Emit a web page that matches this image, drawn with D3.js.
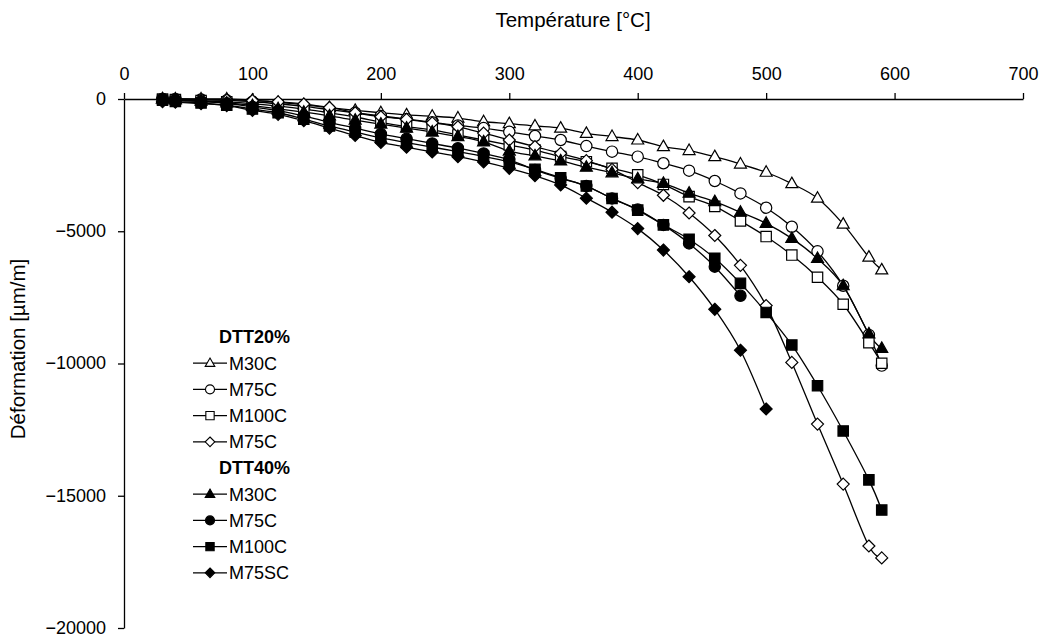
<!DOCTYPE html>
<html><head><meta charset="utf-8">
<script src="https://cdn.jsdelivr.net/npm/d3@7"></script>
<style>body{margin:0;background:#fff}svg{display:block}text{font-family:"Liberation Sans",Arial,sans-serif;fill:#000}</style>
</head><body><svg id="c" width="1042" height="636"></svg>
<script>
const temps = [30,40,60,80,100,120,140,160,180,200,220,240,260,280,300,320,340,360,380,400,420,440,460,480,500,520,540,560,580,590];
const d20_M30C  = [0,0,0,0,-50,-130,-220,-330,-430,-520,-600,-650,-720,-860,-930,-1020,-1100,-1300,-1420,-1550,-1800,-1950,-2180,-2460,-2770,-3200,-3750,-4730,-5980,-6460];
const d20_M75C  = [0,0,-20,-50,-100,-180,-280,-400,-520,-640,-760,-880,-1000,-1100,-1240,-1400,-1550,-1780,-1990,-2180,-2430,-2710,-3100,-3570,-4110,-4830,-5760,-7060,-8920,-10080];
const d20_M100C = [0,-20,-60,-110,-180,-270,-380,-520,-680,-880,-1045,-1170,-1360,-1550,-1740,-1930,-2180,-2370,-2620,-2870,-3230,-3690,-4060,-4610,-5200,-5900,-6740,-7760,-9210,-9990];
const d20_M75C2 = [0,0,-20,-30,-60,-110,-190,-320,-520,-670,-770,-900,-1050,-1290,-1550,-1800,-2055,-2330,-2660,-3160,-3640,-4310,-5160,-6290,-7810,-9960,-12290,-14560,-16900,-17350];
const d40_M30C  = [0,-30,-80,-150,-250,-370,-500,-640,-800,-950,-1100,-1250,-1420,-1620,-1970,-2150,-2340,-2580,-2790,-3020,-3190,-3560,-3880,-4280,-4700,-5270,-6030,-7060,-8880,-9430];
const d40_M75C  = [0,-40,-100,-160,-300,-440,-640,-880,-1100,-1320,-1500,-1680,-1860,-2060,-2300,-2680,-3000,-3290,-3760,-4180,-4760,-5460,-6340,-7440];
const d40_M100C = [-50,-90,-150,-230,-380,-520,-760,-1020,-1250,-1470,-1650,-1820,-1990,-2170,-2380,-2660,-2980,-3290,-3760,-4200,-4760,-5300,-6020,-6970,-8070,-9300,-10840,-12550,-14400,-15540];
const d40_M75SC = [-100,-120,-180,-250,-430,-580,-820,-1100,-1380,-1640,-1820,-2000,-2180,-2380,-2620,-2900,-3250,-3750,-4280,-4900,-5710,-6720,-7950,-9500,-11720];
const xTicks = [0,100,200,300,400,500,600,700];
const yTicks = [0,-5000,-10000,-15000,-20000];

const series = [
  {group:"DTT20%", name:"M30C", vals:d20_M30C, shape:"tri", fill:"#fff"},
  {group:"DTT20%", name:"M75C", vals:d20_M75C, shape:"circ", fill:"#fff"},
  {group:"DTT20%", name:"M100C", vals:d20_M100C, shape:"sq", fill:"#fff"},
  {group:"DTT20%", name:"M75C", vals:d20_M75C2, shape:"dia", fill:"#fff"},
  {group:"DTT40%", name:"M30C", vals:d40_M30C, shape:"tri", fill:"#000"},
  {group:"DTT40%", name:"M75C", vals:d40_M75C, shape:"circ", fill:"#000"},
  {group:"DTT40%", name:"M100C", vals:d40_M100C, shape:"sq", fill:"#000"},
  {group:"DTT40%", name:"M75SC", vals:d40_M75SC, shape:"dia", fill:"#000"}
];

const FS = "18px", TFS = "20.5px";
const svg = d3.select("#c");
const x = d3.scaleLinear().domain([0,700]).range([124,1023]);
const y = d3.scaleLinear().domain([-20000,0]).range([628,99]);

function shapePath(shape, s){
  if(shape==="circ") return d3.symbol(d3.symbolCircle, 100*s*s)();
  if(shape==="sq"){const h=5.2*s; return `M${-h},${-h}H${h}V${h}H${-h}Z`;}
  if(shape==="dia"){const h=6*s; return `M0,${-h}L${h},0L0,${h}L${-h},0Z`;}
  const w=6*s, hh=10.5*s; return `M0,${-hh*0.62}L${w},${hh*0.38}L${-w},${hh*0.38}Z`;
}

// axes
const xAxis = d3.axisTop(x).tickValues(xTicks).tickSize(6).tickSizeOuter(0).tickPadding(13).tickFormat(d3.format("d"));
const gx = svg.append("g").attr("transform",`translate(0,${y(0)})`).call(xAxis);
const yAxis = d3.axisLeft(y).tickValues(yTicks).tickSize(6).tickSizeOuter(0).tickPadding(12).tickFormat(d3.format("d"));
const gy = svg.append("g").attr("transform",`translate(${x(0)},0)`).call(yAxis);
[gx,gy].forEach(g=>{
  g.attr("font-size",null).attr("font-family",null);
  g.selectAll("path,line").attr("stroke","#000").attr("stroke-width",1.3);
  g.selectAll("text").style("font-size",FS).attr("fill","#000");
});
gy.selectAll(".tick text").attr("dy","0.3em");

svg.append("text").attr("x",573).attr("y",27).attr("text-anchor","middle").style("font-size",TFS).text("Température [°C]");
svg.append("text").attr("transform","translate(25,349) rotate(-90)").attr("text-anchor","middle").style("font-size",TFS).text("Déformation [µm/m]");

const line = d3.line().x(d=>x(d[0])).y(d=>y(d[1])).curve(d3.curveCardinal.tension(0));

series.forEach(s=>{
  const pts = s.vals.map((v,i)=>[temps[i],v]);
  s.pts = pts;
  svg.append("path").datum(pts).attr("d",line).attr("fill","none").attr("stroke","#000").attr("stroke-width",1.3);
});
series.forEach(s=>{
  svg.append("g").selectAll("path").data(s.pts).join("path")
    .attr("transform",d=>`translate(${x(d[0])},${y(d[1])})`)
    .attr("d",shapePath(s.shape,1)).attr("fill",s.fill).attr("stroke","#000").attr("stroke-width",1.2);
});

// legend
const lg = svg.append("g");
const rowY = 337, step = 26.2;
let row = 0; let lastGroup = null;
series.forEach(s=>{
  if(s.group!==lastGroup){
    lg.append("text").attr("x",219).attr("y",rowY+row*step).attr("dy","0.35em").style("font-size",FS).style("font-weight","bold").text(s.group);
    lastGroup = s.group; row++;
  }
  const yy = rowY+row*step;
  lg.append("line").attr("x1",193).attr("x2",227).attr("y1",yy).attr("y2",yy).attr("stroke","#000").attr("stroke-width",1.3);
  lg.append("path").attr("transform",`translate(210,${yy})`).attr("d",shapePath(s.shape,0.8)).attr("fill",s.fill).attr("stroke","#000").attr("stroke-width",1.1);
  lg.append("text").attr("x",229).attr("y",yy).attr("dy","0.35em").style("font-size",FS).text(s.name);
  row++;
});
</script></body></html>
